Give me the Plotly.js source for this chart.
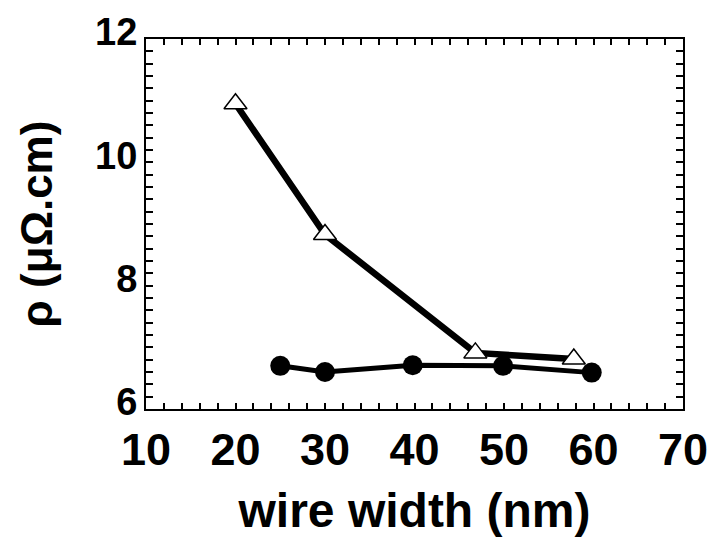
<!DOCTYPE html>
<html>
<head>
<meta charset="utf-8">
<script src="https://cdn.plot.ly/plotly-3.0.1.min.js"></script>
<style>html,body{margin:0;padding:0;background:#fff;}#chart{width:710px;height:543px;}</style>
</head>
<body>
<div id="chart"></div>
<script>
// Series: open triangles
var triX = [20, 30, 46.8, 57.8];
var triY = [10.95, 8.83, 6.91, 6.81];
// Series: filled circles
var circX = [25, 30, 39.8, 49.9, 59.8];
var circY = [6.70, 6.60, 6.71, 6.70, 6.59];
// Axis ticks
var xTicks = [10, 20, 30, 40, 50, 60, 70];
var yTicks = [6, 8, 10, 12];

var traces = [
  {x: circX, y: circY, type: 'scatter', mode: 'lines+markers',
   line: {color: '#000', width: 5},
   marker: {symbol: 'circle', size: 20, color: '#000'}},
  {x: triX, y: triY, type: 'scatter', mode: 'lines+markers',
   line: {color: '#000', width: 6.5},
   marker: {symbol: 'triangle-up', size: 20, color: '#fff', line: {color: '#000', width: 1.5}}}
];

var layout = {
  width: 710, height: 543,
  margin: {l: 146, r: 27, t: 39, b: 134},
  paper_bgcolor: '#fff', plot_bgcolor: '#fff',
  showlegend: false,
  font: {family: 'Liberation Sans, Arial, sans-serif', color: '#000'},
  xaxis: {
    range: [10, 70], tickmode: 'array', tickvals: xTicks, ticktext: xTicks.map(String),
    showgrid: false, zeroline: false, showline: true, linecolor: '#000', linewidth: 2, mirror: 'allticks',
    ticks: 'inside', ticklen: 6, tickwidth: 2, tickcolor: '#000',
    minor: {dtick: 2, ticks: 'inside', ticklen: 6, tickwidth: 2, tickcolor: '#000', showgrid: false},
    tickfont: {size: 45, weight: 'bold'},
    ticklabelstandoff: 0,
    ticklabeloverflow: 'allow',
    title: {text: 'wire width (nm)', font: {size: 48, weight: 'bold'}, standoff: 19}
  },
  yaxis: {
    range: [6, 12], tickmode: 'array', tickvals: yTicks, ticktext: yTicks.map(String),
    showgrid: false, zeroline: false, showline: true, linecolor: '#000', linewidth: 2, mirror: 'allticks',
    ticks: 'inside', ticklen: 7, tickwidth: 2, tickcolor: '#000',
    minor: {dtick: 0.2, ticks: 'inside', ticklen: 7, tickwidth: 2, tickcolor: '#000', showgrid: false},
    tickfont: {size: 38, weight: 'bold'},
    ticklabelstandoff: -1,
    ticklabelshift: -7,
    ticklabeloverflow: 'allow',
    title: {text: 'ρ (μΩ.cm)', font: {size: 44, weight: 'bold'}, standoff: 29}
  }
};

Plotly.newPlot('chart', traces, layout, {displayModeBar: false, staticPlot: true});
</script>
</body>
</html>
